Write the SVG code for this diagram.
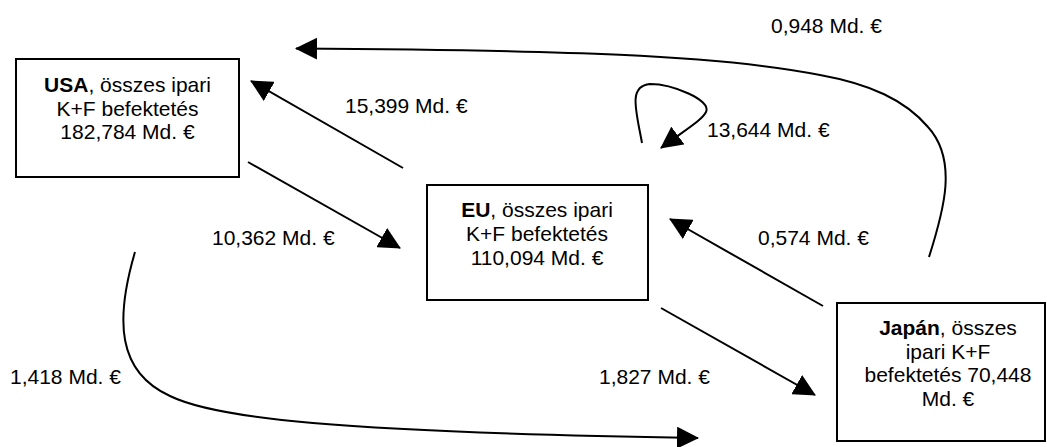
<svg xmlns="http://www.w3.org/2000/svg" width="1047" height="447" viewBox="0 0 1047 447">
  <style>
    .box { fill: #ffffff; stroke: #000000; stroke-width: 2; }
    .lbl { font-family: "Liberation Sans", Arial, sans-serif; font-size: 21px; fill: #000000; }
    .mid { text-anchor: middle; }
    .b { font-weight: bold; }
    .flow { fill: none; stroke: #000000; stroke-width: 2; marker-end: url(#head); }
  </style>
  <defs>
    <marker id="head" markerUnits="userSpaceOnUse" markerWidth="22" markerHeight="22" refX="21" refY="11" orient="auto">
      <path d="M0,0 L22,11 L0,22 Z" fill="#000000"/>
    </marker>
  </defs>

  <rect width="1047" height="447" fill="#ffffff"/>

  <!-- flows between regions -->
  <g id="connectors">
    <path class="flow" d="M403,168 L251,81"/>
    <path class="flow" d="M248,162 L400,248"/>
    <path class="flow" d="M823,306 L670,219"/>
    <path class="flow" d="M661,308 L815,395"/>
    <path class="flow" d="M135,252 C115,320 117,372 170,396 C215,418 330,432 698,438"/>
    <path class="flow" d="M929,257 C944,210 958,160 928,127 C905,100 870,84 820,75 C720,55 560,50 296,48.5"/>
    <path class="flow" d="M642,143 C636,110 628,86 650,84 C672,84 712,100 706,112 C702,120 688,128 661,148"/>
  </g>

  <g id="flow-labels">
    <text class="lbl" x="771" y="33">0,948 Md. €</text>
    <text class="lbl" x="345" y="113">15,399 Md. €</text>
    <text class="lbl" x="707" y="137">13,644 Md. €</text>
    <text class="lbl" x="212" y="245">10,362 Md. €</text>
    <text class="lbl" x="758" y="245">0,574 Md. €</text>
    <text class="lbl" x="10" y="384">1,418 Md. €</text>
    <text class="lbl" x="599" y="384">1,827 Md. €</text>
  </g>

  <g id="usa">
    <rect class="box" x="16" y="59" width="223" height="118"/>
    <text class="lbl mid" x="127.5" y="92"><tspan class="b">USA</tspan>, összes ipari</text>
    <text class="lbl mid" x="127.5" y="115.5">K+F befektetés</text>
    <text class="lbl mid" x="127.5" y="139">182,784 Md. €</text>
  </g>

  <g id="eu">
    <rect class="box" x="427" y="185" width="221" height="115"/>
    <text class="lbl mid" x="537" y="217"><tspan class="b">EU</tspan>, összes ipari</text>
    <text class="lbl mid" x="537" y="241">K+F befektetés</text>
    <text class="lbl mid" x="537" y="264.5">110,094 Md. €</text>
  </g>

  <g id="japan">
    <rect class="box" x="837" y="303" width="208" height="138"/>
    <text class="lbl mid" x="948" y="335"><tspan class="b">Japán</tspan>, összes</text>
    <text class="lbl mid" x="948" y="358.5">ipari K+F</text>
    <text class="lbl mid" x="948" y="382">befektetés 70,448</text>
    <text class="lbl mid" x="948" y="405.5">Md. €</text>
  </g>
</svg>
